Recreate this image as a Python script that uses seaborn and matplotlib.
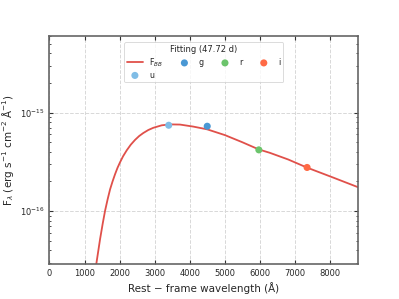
import numpy as np
import pandas as pd
import matplotlib
matplotlib.use("Agg")
import matplotlib.pyplot as plt
import matplotlib.ticker as mticker
import seaborn as sns

# Blackbody fit curve
fit_wave = [1250, 1339, 1444, 1520, 1587, 1660, 1729, 1800, 1872, 1940, 2014,
            2100, 2205, 2320, 2442, 2560, 2678, 2820, 2963, 3202, 3439, 3724,
            4103, 4501, 5006, 5500, 5974, 6288, 6809, 7350, 8091, 8852]
fit_flux = [2.0e-17, 2.95e-17, 5.2e-17, 7.5e-17, 1.01e-16, 1.32e-16, 1.66e-16,
            2.0e-16, 2.37e-16, 2.74e-16, 3.13e-16, 3.6e-16, 4.14e-16, 4.72e-16,
            5.28e-16, 5.78e-16, 6.2e-16, 6.65e-16, 7.0e-16, 7.42e-16, 7.58e-16,
            7.55e-16, 7.2e-16, 6.75e-16, 5.9e-16, 5.0e-16, 4.22e-16, 3.9e-16,
            3.34e-16, 2.76e-16, 2.19e-16, 1.72e-16]

# Photometric points
bands = ["g", "r", "i", "u"]
band_wave = [4501, 5974, 7350, 3402]
band_flux = [7.26e-16, 4.18e-16, 2.77e-16, 7.43e-16]
band_colors = ["#4a98d4", "#6cc46c", "#ff6a45", "#80bde6"]

fit_label = "F$_{BB}$"
legend_title = "Fitting (47.72 d)"
xlabel = "Rest − frame wavelength (Å)"
ylabel = "F$_\\lambda$ (erg s$^{-1}$ cm$^{-2}$ Å$^{-1}$)"

sns.set_style("ticks")
plt.rcParams["font.family"] = ["DejaVu Sans"]

fig = plt.figure(figsize=(3.99, 2.99), dpi=100)
ax = fig.add_axes([0.124, 0.117, 0.773, 0.763])

fit_df = pd.DataFrame({"wave": fit_wave, "flux": fit_flux})
sns.lineplot(data=fit_df, x="wave", y="flux", ax=ax, color="#e0504a",
             linewidth=1.3, label=fit_label, zorder=2)

pts = pd.DataFrame({"wave": band_wave, "flux": band_flux, "band": bands})
for b, c in zip(bands, band_colors):
    sub = pts[pts["band"] == b]
    sns.scatterplot(data=sub, x="wave", y="flux", ax=ax, color=c, s=26,
                    edgecolor="none", label=b, zorder=3)

ax.set_yscale("log")
ax.set_xlim(0, 8800)
ax.set_ylim(2.9e-17, 6e-15)
ax.set_xticks(range(0, 9000, 1000))
ax.yaxis.set_minor_formatter(mticker.NullFormatter())
ax.xaxis.set_minor_locator(mticker.NullLocator())
ax.grid(True, which="major", linestyle="--", color="#d8d8d8", linewidth=0.7)
ax.set_axisbelow(True)

ax.tick_params(which="both", direction="in", top=True, right=True,
               labelsize=6, color="#333333")
ax.tick_params(which="major", length=3, width=0.8)
ax.tick_params(which="minor", length=1.6, width=0.6)
for s in ax.spines.values():
    s.set_color("#666666")
    s.set_linewidth(1.2)

ax.set_xlabel(xlabel, fontsize=7.5, labelpad=3)
ax.set_ylabel(ylabel, fontsize=7.5, labelpad=3)

handles, labels = ax.get_legend_handles_labels()
order = [labels.index(l) for l in [fit_label, "u", "g", "r", "i"]]
leg = ax.legend([handles[i] for i in order], [labels[i] for i in order],
                title=legend_title, ncol=4, loc="upper center",
                bbox_to_anchor=(0.5, 0.99), fontsize=5.8, title_fontsize=6,
                frameon=True, handlelength=2.0, columnspacing=1.6,
                borderpad=0.35, labelspacing=0.25, handletextpad=0.8)
leg.get_frame().set_edgecolor("#cccccc")
leg.get_frame().set_linewidth(0.6)

fig.savefig("out.png", dpi=100)
